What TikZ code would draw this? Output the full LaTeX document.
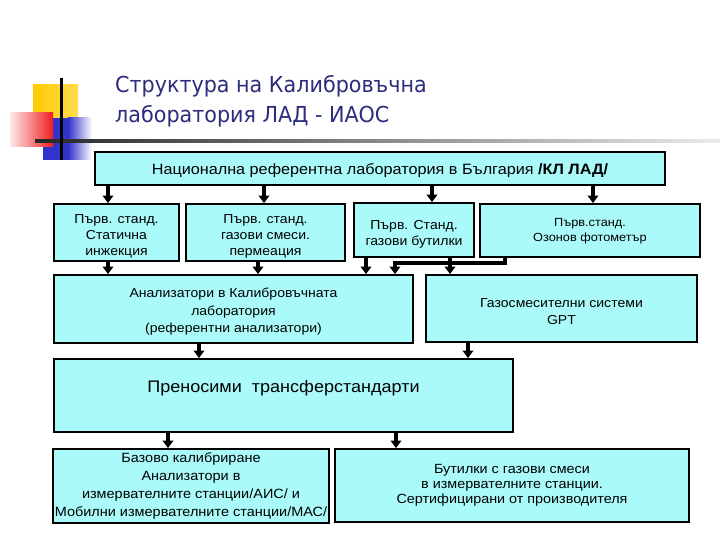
\documentclass[tikz,border=0pt]{standalone}
\usepackage{fontspec}
\setmainfont{Liberation Sans}[FakeStretch=1.08]
\newfontfamily\titlefont[FakeStretch=0.94]{DejaVu Sans}
\usetikzlibrary{arrows.meta}
\definecolor{boxfill}{RGB}{170,250,250}
\definecolor{titlecol}{RGB}{45,45,125}
\definecolor{yel}{RGB}{255,204,0}
\definecolor{redc}{RGB}{240,30,30}
\definecolor{bluc}{RGB}{51,51,204}
\tikzset{
  box/.style={draw=black, line width=1.8pt, fill=boxfill, align=center, inner sep=0pt},
  arr/.style={line width=3.2pt, -{Triangle[width=10.5pt,length=7.5pt]}},
  fs/.style 2 args={font=\fontsize{#1}{#2}\selectfont}
}
\begin{document}
\begin{tikzpicture}[x=1pt,y=-1pt]
\useasboundingbox[fill=white] (0,0) rectangle (720,540);
% decoration
\shade[left color=yel, right color=yel!70!white] (33,85) rectangle (78,127);
\fill[bluc] (43,118) rectangle (68,160);
\shade[left color=bluc, right color=white] (68,118) rectangle (92,160);
\shade[left color=redc!10!white, right color=redc] (10,113) rectangle (53,147);
\shade[left color=black!85, right color=black!8] (35,139.8) rectangle (720,142.6);
\fill[black] (59.8,78) rectangle (62.6,160);
% title
\node[anchor=base west, text=titlecol, font=\titlefont\fontsize{22}{30}\selectfont, align=left, inner sep=0pt] (title) at (115,123) {Структура на Калибровъчна\\лаборатория ЛАД - ИАОС};
% boxes
\node[box, fs={15}{17}, minimum width=570pt, minimum height=33pt, text height=16pt, text depth=3pt] (top) at (380,168.5) {Национална референтна лаборатория в България \textbf{/КЛ ЛАД/}};
\node[box, fs={13}{16}, minimum width=125pt, minimum height=57pt, text height=50pt, text depth=3.5pt] (b1) at (116.5,232.5) {Първ. станд.\\Статична\\инжекция};
\node[box, fs={13}{16}, minimum width=159pt, minimum height=57pt, text height=50pt, text depth=3.5pt] (b2) at (265.5,232.5) {Първ. станд.\\газови смеси.\\пермеация};
\node[box, fs={13}{16}, minimum width=120pt, minimum height=54pt, text height=33.5pt, text depth=3.5pt] (b3) at (414,230) {Първ. Станд.\\газови бутилки};
\node[box, fs={11.8}{15}, minimum width=220pt, minimum height=53pt, text height=24pt, text depth=3pt] (b4) at (590,230.5) {Първ.станд.\\Озонов фотометър};
\node[box, fs={13}{17.5}, minimum width=359pt, minimum height=68pt, text height=50.5pt, text depth=3.5pt] (ana) at (233.5,309) {Анализатори в Калибровъчната\\лаборатория\\(референтни анализатори)};
\node[box, fs={13}{17}, minimum width=271pt, minimum height=67pt, text height=35.5pt, text depth=3.5pt] (gpt) at (561.5,308.5) {Газосмесителни системи\\GPT};
\node[box, fs={16.7}{19}, minimum width=459pt, text height=33pt, text depth=40pt] (tr) at (283.5,395.5) {Преносими\ \ трансферстандарти};
\node[box, fs={13.4}{18.3}, minimum width=276pt, minimum height=74pt] (bl) at (191,486) {Базово калибриране\\Анализатори в\\измервателните станции/АИС/ и\\Мобилни измервателните станции/МАС/};
\node[box, fs={13.3}{15}, minimum width=354pt, minimum height=73pt] (br) at (512,485.5) {Бутилки с газови смеси\\в измервателните станции.\\Сертифицирани от производителя};
% connectors
\draw[arr] (top.south -| 108,0) -- (b1.north -| 108,0);
\draw[arr] (top.south -| 264,0) -- (b2.north -| 264,0);
\draw[arr] (top.south -| 432,0) -- (b3.north -| 432,0);
\draw[arr] (top.south -| 593,0) -- (b4.north -| 593,0);
\draw[arr] (b1.south -| 108,0) -- (ana.north -| 108,0);
\draw[arr] (b2.south -| 258,0) -- (ana.north -| 258,0);
\draw[arr] (b3.south -| 366,0) -- (ana.north -| 366,0);
\draw[arr] (b3.south -| 450,0) -- (gpt.north -| 450,0);
\draw[arr] (b4.south -| 505,0) |- (395,263) -- (ana.north -| 395,0);
\draw[arr] (ana.south -| 199,0) -- (tr.north -| 199,0);
\draw[arr] (gpt.south -| 468,0) -- (tr.north -| 468,0);
\draw[arr] (tr.south -| 168,0) -- (bl.north -| 168,0);
\draw[arr] (tr.south -| 396,0) -- (br.north -| 396,0);
\end{tikzpicture}
\end{document}
